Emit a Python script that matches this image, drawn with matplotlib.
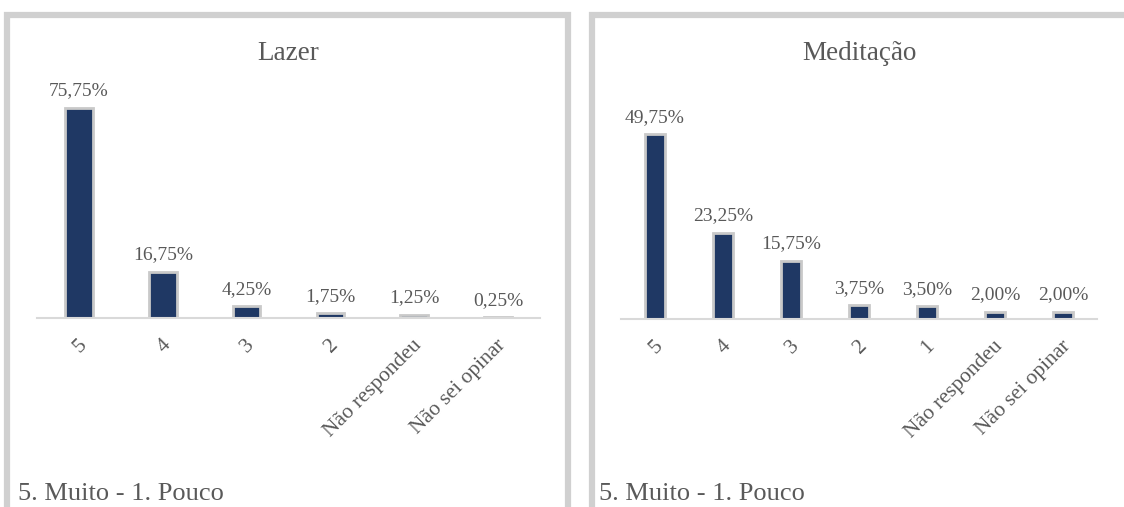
import matplotlib.pyplot as plt
import matplotlib.transforms as mtransforms
from matplotlib.patches import Rectangle

# dados
lazer_cats = ['5', '4', '3', '2', 'Não respondeu', 'Não sei opinar']
lazer_vals = [75.75, 16.75, 4.25, 1.75, 1.25, 0.25]
lazer_labels = ['75,75%', '16,75%', '4,25%', '1,75%', '1,25%', '0,25%']

med_cats = ['5', '4', '3', '2', '1', 'Não respondeu', 'Não sei opinar']
med_vals = [49.75, 23.25, 15.75, 3.75, 3.50, 2.00, 2.00]
med_labels = ['49,75%', '23,25%', '15,75%', '3,75%', '3,50%', '2,00%', '2,00%']

plt.rcParams['font.family'] = ['Liberation Serif', 'DejaVu Serif']

W, H = 1124, 507
fig = plt.figure(figsize=(W / 100, H / 100), dpi=100)

navy = '#1f3864'
edge = '#c9c9c9'
txt = '#595959'


def px_axes(x0, x1, y_base, y_top):
    return fig.add_axes([x0 / W, (H - y_base) / H, (x1 - x0) / W, (y_base - y_top) / H])


def draw(ax, cats, vals, labels, width, ymax):
    x = range(len(cats))
    ax.bar(x, vals, width=width, color=navy, edgecolor=edge, linewidth=2, zorder=2)
    for i, (v, l) in enumerate(zip(vals, labels)):
        ax.annotate(l, (i, v), xytext=(0, 6), textcoords='offset points',
                    ha='center', va='bottom', fontsize=14, color=txt)
    ax.set_xlim(-0.5, len(cats) - 0.5)
    ax.set_ylim(0, ymax)
    ax.set_xticks(list(x))
    ax.set_xticklabels(cats, rotation=45, ha='right', va='center',
                       rotation_mode='anchor', fontsize=15.5, color=txt)
    ax.tick_params(axis='x', length=0, pad=16)
    # desloca um pouco os rotulos para a direita
    off = mtransforms.ScaledTranslation(5 / 100, -2 / 100, fig.dpi_scale_trans)
    for lab in ax.get_xticklabels():
        lab.set_transform(lab.get_transform() + off)
    ax.set_yticks([])
    for s in ['top', 'right', 'left']:
        ax.spines[s].set_visible(False)
    ax.spines['bottom'].set_color('#d9d9d9')
    ax.spines['bottom'].set_linewidth(1.5)
    ax.patch.set_alpha(0)


# molduras
fig.patches.append(Rectangle((7 / W, -0.1), 561 / W, (H - 15) / H + 0.1,
                             transform=fig.transFigure, fill=False,
                             edgecolor='#d0d0d0', linewidth=4.5))
fig.patches.append(Rectangle((592 / W, -0.1), 0.6, (H - 15) / H + 0.1,
                             transform=fig.transFigure, fill=False,
                             edgecolor='#d0d0d0', linewidth=4.5))

ax1 = px_axes(37, 540, 318, 96)
draw(ax1, lazer_cats, lazer_vals, lazer_labels, 0.33, 80)
ax2 = px_axes(621, 1097, 319, 115)
draw(ax2, med_cats, med_vals, med_labels, 0.3, 55)

fig.text(288 / W, (H - 53) / H, 'Lazer', ha='center', va='center', fontsize=19.5, color=txt)
fig.text(859 / W, (H - 53) / H, 'Meditação', ha='center', va='center', fontsize=19.5, color=txt)
fig.text(18 / W, (H - 500) / H, '5. Muito - 1. Pouco', ha='left', va='baseline', fontsize=19, color=txt)
fig.text(599 / W, (H - 500) / H, '5. Muito - 1. Pouco', ha='left', va='baseline', fontsize=19, color=txt)

fig.savefig('out.png', dpi=100, facecolor='white')
